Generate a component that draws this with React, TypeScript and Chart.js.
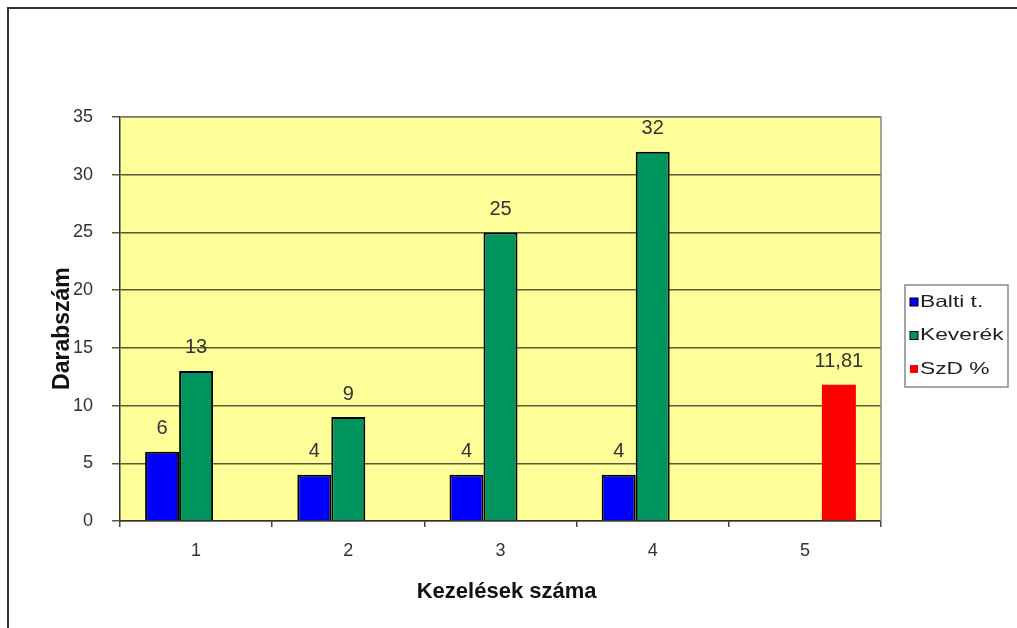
import React, { useEffect, useRef } from "react";
import { Chart, registerables } from "chart.js";

Chart.register(...registerables);

const categories = ["1", "2", "3", "4", "5"];
const baltiValues = [6, 4, 4, 4, null];
const keverekValues = [13, 9, 25, 32, null];
const szdValues = [null, null, null, null, 11.81];
const seriesNames = ["Balti t.", "Keverék", "SzD %"];
const yTicks = [0, 5, 10, 15, 20, 25, 30, 35];

const FONT = "'Liberation Sans', Arial, sans-serif";

const frame = {
  id: "frame",
  beforeDraw(chart: any) {
    const { ctx, chartArea: a, width, height } = chart;
    ctx.save();
    ctx.fillStyle = "#ffffff";
    ctx.fillRect(0, 0, width, height);
    ctx.fillStyle = "#FFFF99";
    ctx.fillRect(a.left, a.top, a.right - a.left, a.bottom - a.top);
    ctx.strokeStyle = "#333333";
    ctx.lineWidth = 2;
    ctx.beginPath();
    ctx.moveTo(8, height);
    ctx.lineTo(8, 8);
    ctx.lineTo(width, 8);
    ctx.stroke();
    ctx.restore();
  },
  afterDraw(chart: any) {
    const { ctx, chartArea: a } = chart;
    ctx.save();
    ctx.strokeStyle = "#8a8a80";
    ctx.lineWidth = 1.5;
    ctx.beginPath();
    ctx.moveTo(a.left, a.top);
    ctx.lineTo(a.right, a.top);
    ctx.lineTo(a.right, a.bottom);
    ctx.stroke();
    // legend
    const lx = 905, ly = 285, lw = 103, lh = 102;
    ctx.fillStyle = "#ffffff";
    ctx.fillRect(lx, ly, lw, lh);
    ctx.strokeStyle = "#888888";
    ctx.lineWidth = 1.5;
    ctx.strokeRect(lx, ly, lw, lh);
    chart.data.datasets.forEach((ds: any, i: number) => {
      const cy = 302 + i * 33.5;
      ctx.fillStyle = ds.backgroundColor;
      ctx.fillRect(910, cy - 4, 8, 8);
      if (i < 2) {
        ctx.strokeStyle = "#000";
        ctx.lineWidth = 1;
        ctx.strokeRect(910, cy - 4, 8, 8);
      }
      ctx.save();
      ctx.translate(920, cy);
      ctx.scale(1.38, 1);
      ctx.font = `16.5px ${FONT}`;
      ctx.textBaseline = "middle";
      ctx.textAlign = "left";
      ctx.fillStyle = "#222";
      ctx.fillText(ds.label, 0, 0);
      ctx.restore();
    });
    ctx.restore();
  },
  afterDatasetsDraw(chart: any) {
    const { ctx } = chart;
    ctx.save();
    ctx.font = `20px ${FONT}`;
    ctx.fillStyle = "#333";
    ctx.textAlign = "center";
    ctx.textBaseline = "middle";
    chart.data.datasets.forEach((ds: any, di: number) => {
      const meta = chart.getDatasetMeta(di);
      meta.data.forEach((el: any, i: number) => {
        const v = ds.data[i];
        if (v === null || v === undefined) return;
        ctx.fillText(String(v).replace(".", ","), el.x, el.y - 23);
      });
    });
    ctx.restore();
  },
};

export default function App() {
  const ref = useRef<HTMLCanvasElement>(null);
  useEffect(() => {
    const chart = new Chart(ref.current!, {
      type: "bar",
      data: {
        labels: categories,
        datasets: [
          { label: seriesNames[0], data: baltiValues, backgroundColor: "#0000FF", borderColor: "#000000", borderWidth: 2 },
          { label: seriesNames[1], data: keverekValues, backgroundColor: "#00955F", borderColor: "#000000", borderWidth: 2 },
          { label: seriesNames[2], data: szdValues, backgroundColor: "#FF0000", borderWidth: 0 },
        ],
      },
      options: {
        animation: false,
        responsive: true,
        maintainAspectRatio: false,
        datasets: { bar: { categoryPercentage: 0.67, barPercentage: 1 } },
        layout: { padding: { left: 0, top: 117, right: 136, bottom: 0 } },
        plugins: { legend: { display: false }, tooltip: { enabled: false } },
        scales: {
          x: {
            afterFit: (s: any) => { s.height = 107; },
            grid: { drawOnChartArea: false, drawTicks: true, tickLength: 6, color: "#444", lineWidth: 1.5 },
            border: { color: "#333", width: 1.5 },
            ticks: { color: "#333", padding: 13, font: { family: FONT, size: 18 } },
            title: { display: true, text: "  Kezelések száma", color: "#111", padding: { top: 0, bottom: 23 }, font: { family: FONT, size: 22, weight: "bold" } },
          },
          y: {
            min: 0,
            max: 35,
            afterFit: (s: any) => { s.width = 120; },
            afterBuildTicks: (s: any) => { s.ticks = yTicks.map((v) => ({ value: v })); },
            grid: { color: "#5a5a3a", lineWidth: 1.5, drawTicks: true, tickLength: 8 },
            border: { color: "#333", width: 1.5 },
            ticks: { color: "#333", padding: 19, font: { family: FONT, size: 18 } },
            title: { display: true, text: "Darabszám   ", color: "#111", padding: { top: 49, bottom: 0 }, font: { family: FONT, size: 23, weight: "bold" } },
          },
        },
      },
      plugins: [frame],
    });
    return () => chart.destroy();
  }, []);
  return (
    <div style={{ position: "absolute", left: 0, top: 0, width: 1017, height: 628 }}>
      <canvas ref={ref} />
    </div>
  );
}
